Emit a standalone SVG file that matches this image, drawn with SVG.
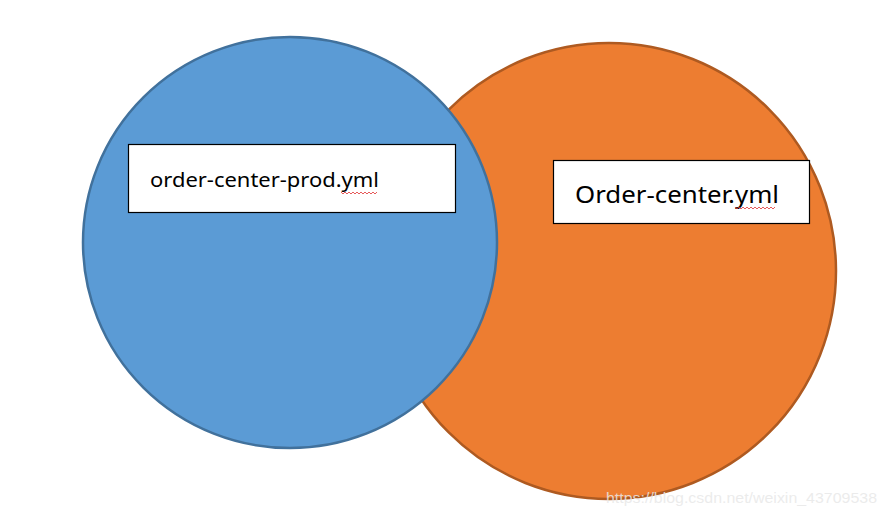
<svg xmlns="http://www.w3.org/2000/svg" width="887" height="519" viewBox="0 0 887 519">
<style>
.box{fill:#fff;stroke:#000;stroke-width:1.2}
.t{font-family:"Noto Sans","Open Sans",sans-serif;fill:#000}
.sq{fill:none;stroke:#e03030;stroke-width:0.8}
</style>
<rect width="887" height="519" fill="#fff"/>
<g id="orange">
<ellipse cx="609" cy="271" rx="227" ry="228" fill="#ed7d31" stroke="#ae5a21" stroke-width="2.5"/>
</g>
<g id="blue">
<ellipse cx="290" cy="242.5" rx="207" ry="205.5" fill="#5b9bd5" stroke="#41719c" stroke-width="2.5"/>
</g>
<g id="prod">
<rect class="box" x="128.5" y="144.5" width="327" height="68"/>
<text class="t" x="150" y="187" font-size="20" textLength="229" lengthAdjust="spacingAndGlyphs">order-center-prod.yml</text>
<path class="sq" d="M341 192 l2 2 l2 -2 l2 2 l2 -2 l2 2 l2 -2 l2 2 l2 -2 l2 2 l2 -2 l2 2 l2 -2 l2 2 l2 -2 l2 2 l2 -2 l2 2 l2 -2"/>
</g>
<g id="order">
<rect class="box" x="553.5" y="160.5" width="256" height="63"/>
<text class="t" x="575" y="203" font-size="24" textLength="204" lengthAdjust="spacingAndGlyphs">Order-center.yml</text>
<path class="sq" d="M735 207 l2 2 l2 -2 l2 2 l2 -2 l2 2 l2 -2 l2 2 l2 -2 l2 2 l2 -2 l2 2 l2 -2 l2 2 l2 -2 l2 2 l2 -2 l2 2 l2 -2 l2 2 l2 -2"/>
</g>
<text x="606" y="503" font-family="Liberation Sans, Arial, sans-serif" font-size="14" fill="#e8e8e8" fill-opacity="0.85" textLength="271" lengthAdjust="spacingAndGlyphs">https://blog.csdn.net/weixin_43709538</text>
</svg>
